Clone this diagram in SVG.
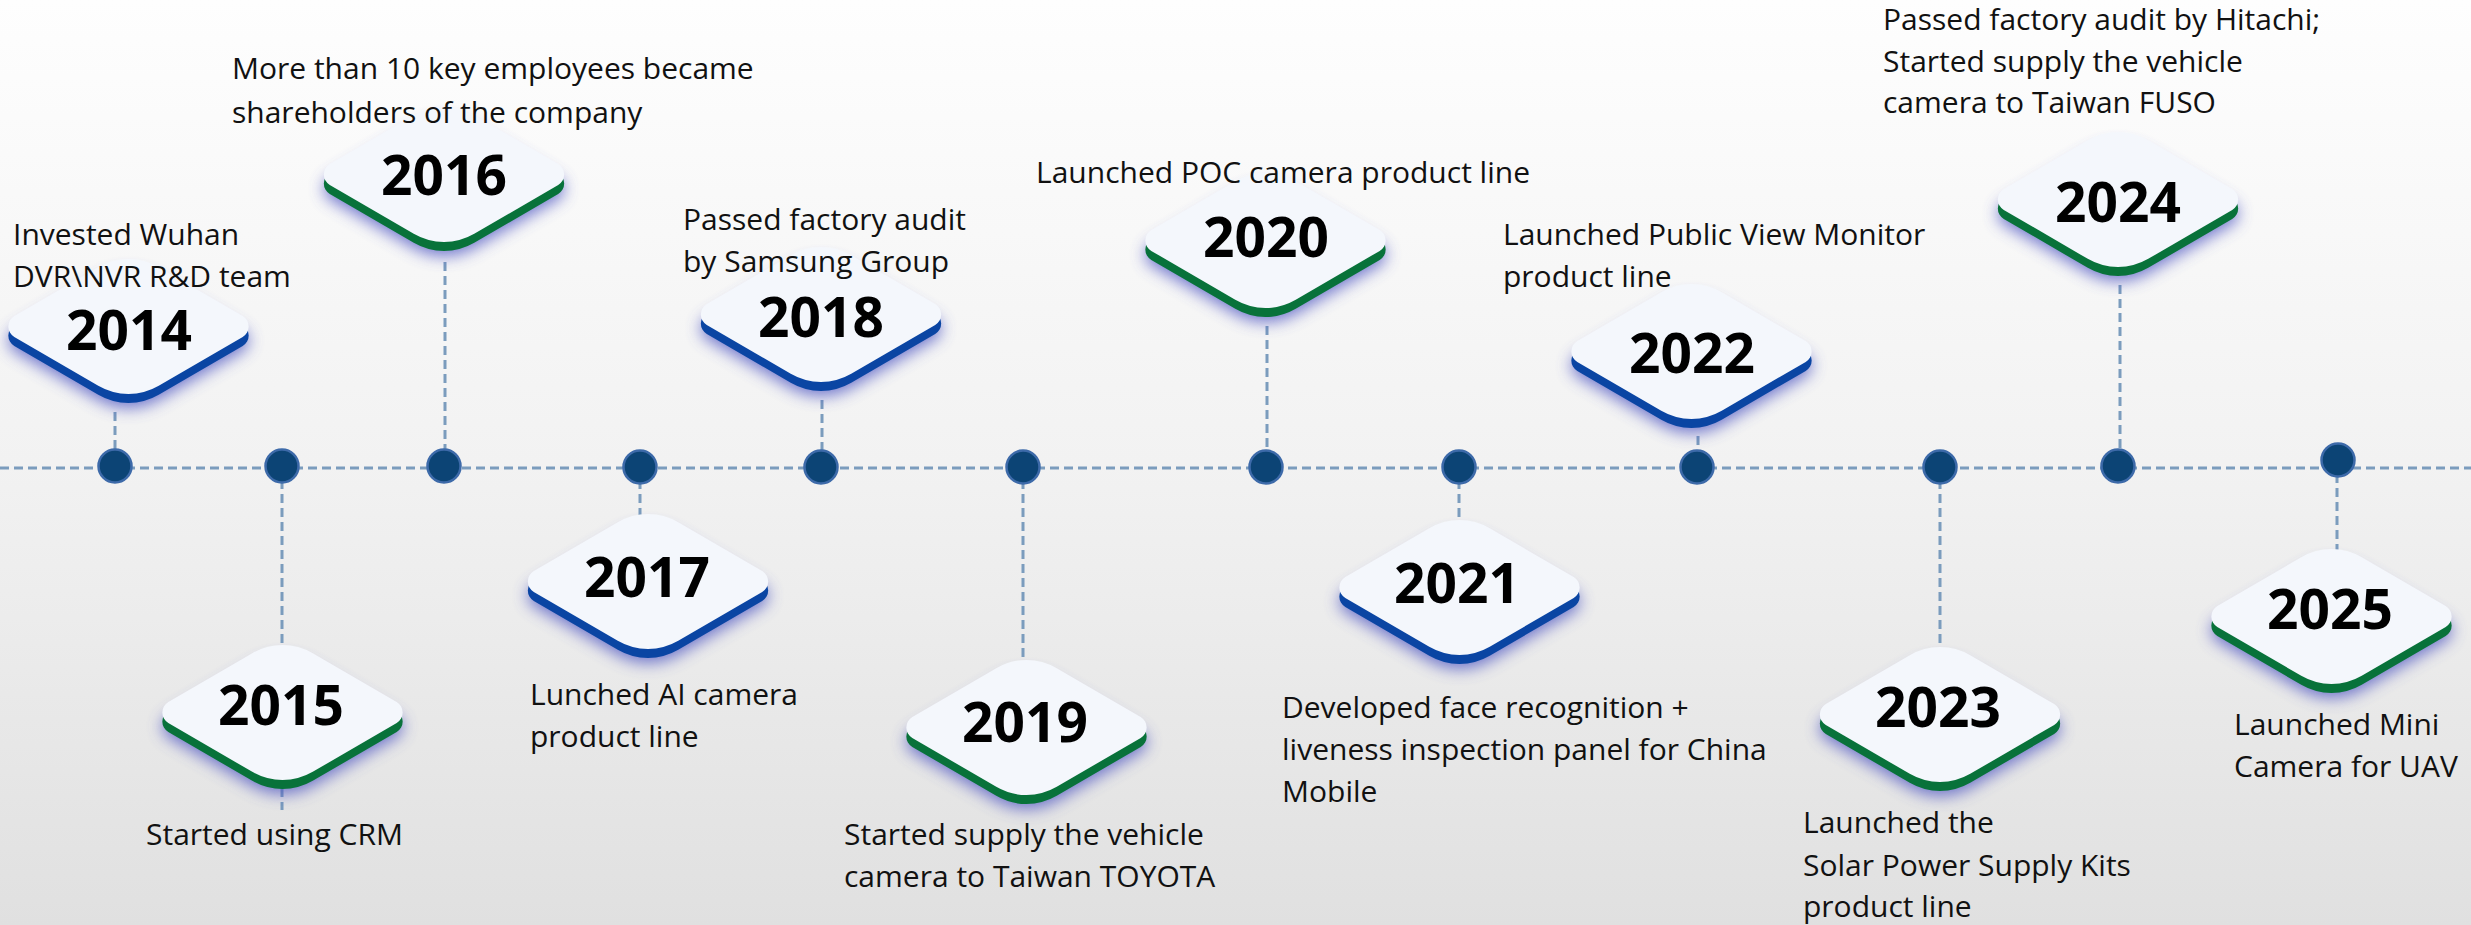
<svg xmlns="http://www.w3.org/2000/svg" xmlns:xlink="http://www.w3.org/1999/xlink" width="2471" height="925" viewBox="0 0 2471 925">
<defs>
<linearGradient id="bg" x1="0" y1="0" x2="0" y2="1">
<stop offset="0" stop-color="#fefefe"/>
<stop offset="0.5" stop-color="#f2f2f2"/>
<stop offset="1" stop-color="#e0e0e0"/>
</linearGradient>
<filter id="sh" x="-30%" y="-40%" width="160%" height="190%">
<feGaussianBlur stdDeviation="8"/>
</filter>
<path id="tile" d="M-30.24,-59.36 A60,60 0 0 1 30.24,-59.36 L114.2,-10.38 A12,12 0 0 1 114.2,10.38 L30.24,59.36 A60,60 0 0 1 -30.24,59.36 L-114.2,10.38 A12,12 0 0 1 -114.2,-10.38 Z"/>
<style>
.shadow{fill:#4f56c2;opacity:.8;filter:url(#sh)}
.face{fill:#f4f7fc}
.blue{fill:#0a45a3}
.green{fill:#08723a}
.year{font-family:"Open Sans","Liberation Sans",sans-serif;font-weight:700;font-size:55px;fill:#000;text-anchor:middle}
.desc{font-family:"Open Sans","Liberation Sans",sans-serif;font-size:30px;fill:#111}
.dash{stroke:#7b9cbd;stroke-width:3;stroke-dasharray:9 5;fill:none}
.dot{fill:#0c4475;stroke:#3d6aa9;stroke-width:2.5}
</style>
</defs>
<rect x="0" y="0" width="2471" height="925" fill="url(#bg)"/>

<g id="connectors">
<line class="dash" x1="0" y1="468" x2="2471" y2="468"/>
<line class="dash" x1="115" y1="412" x2="115" y2="466"/>
<line class="dash" x1="282" y1="466" x2="282" y2="810"/>
<line class="dash" x1="445" y1="262" x2="445" y2="466"/>
<line class="dash" x1="640" y1="466" x2="640" y2="515"/>
<line class="dash" x1="822" y1="400" x2="822" y2="466"/>
<line class="dash" x1="1023" y1="466" x2="1023" y2="662"/>
<line class="dash" x1="1267" y1="326" x2="1267" y2="466"/>
<line class="dash" x1="1459" y1="466" x2="1459" y2="522"/>
<line class="dash" x1="1698" y1="436" x2="1698" y2="466"/>
<line class="dash" x1="1940" y1="466" x2="1940" y2="646"/>
<line class="dash" x1="2120" y1="285" x2="2120" y2="466"/>
<line class="dash" x1="2337" y1="460" x2="2337" y2="550"/>
</g>

<g id="dots">
<circle class="dot" cx="115" cy="466" r="16.5"/>
<circle class="dot" cx="282" cy="466" r="16.5"/>
<circle class="dot" cx="444" cy="466" r="16.5"/>
<circle class="dot" cx="640" cy="467" r="16.5"/>
<circle class="dot" cx="821" cy="467" r="16.5"/>
<circle class="dot" cx="1023" cy="467" r="16.5"/>
<circle class="dot" cx="1266" cy="467" r="16.5"/>
<circle class="dot" cx="1459" cy="467" r="16.5"/>
<circle class="dot" cx="1697" cy="467" r="16.5"/>
<circle class="dot" cx="1940" cy="467" r="16.5"/>
<circle class="dot" cx="2118" cy="466" r="16.5"/>
<circle class="dot" cx="2338" cy="460" r="16.5"/>
</g>

<g id="n2014">
<use href="#tile" class="shadow" transform="translate(128.5,340.5)"/>
<use href="#tile" class="blue" transform="translate(128.5,335.5)"/>
<use href="#tile" class="face" transform="translate(128.5,326.5)"/>
<text class="year" x="129" y="350">2014</text>
<text class="desc" x="13" y="245">Invested Wuhan</text>
<text class="desc" x="13" y="287">DVR\NVR R&amp;D team</text>
</g>

<g id="n2015">
<use href="#tile" class="shadow" transform="translate(282.5,726.5)"/>
<use href="#tile" class="green" transform="translate(282.5,721.5)"/>
<use href="#tile" class="face" transform="translate(282.5,712.5)"/>
<text class="year" x="281" y="725">2015</text>
<text class="desc" x="146" y="845">Started using CRM</text>
</g>

<g id="n2016">
<use href="#tile" class="shadow" transform="translate(444,188.5)"/>
<use href="#tile" class="green" transform="translate(444,183.5)"/>
<use href="#tile" class="face" transform="translate(444,174.5)"/>
<text class="year" x="444" y="195">2016</text>
<text class="desc" x="232" y="79">More than 10 key employees became</text>
<text class="desc" x="232" y="123">shareholders of the company</text>
</g>

<g id="n2017">
<use href="#tile" class="shadow" transform="translate(648,595.5)"/>
<use href="#tile" class="blue" transform="translate(648,590.5)"/>
<use href="#tile" class="face" transform="translate(648,581.5)"/>
<text class="year" x="647" y="597">2017</text>
<text class="desc" x="530" y="705">Lunched AI camera</text>
<text class="desc" x="530" y="747">product line</text>
</g>

<g id="n2018">
<use href="#tile" class="shadow" transform="translate(821,328.5)"/>
<use href="#tile" class="blue" transform="translate(821,323.5)"/>
<use href="#tile" class="face" transform="translate(821,314.5)"/>
<text class="year" x="821" y="337">2018</text>
<text class="desc" x="683" y="230">Passed factory audit</text>
<text class="desc" x="683" y="272">by Samsung Group</text>
</g>

<g id="n2019">
<use href="#tile" class="shadow" transform="translate(1026.5,741.5)"/>
<use href="#tile" class="green" transform="translate(1026.5,736.5)"/>
<use href="#tile" class="face" transform="translate(1026.5,727.5)"/>
<text class="year" x="1025" y="742">2019</text>
<text class="desc" x="844" y="845">Started supply the vehicle</text>
<text class="desc" x="844" y="887">camera to Taiwan TOYOTA</text>
</g>

<g id="n2020">
<use href="#tile" class="shadow" transform="translate(1265.5,254.5)"/>
<use href="#tile" class="green" transform="translate(1265.5,249.5)"/>
<use href="#tile" class="face" transform="translate(1265.5,240.5)"/>
<text class="year" x="1266" y="257">2020</text>
<text class="desc" x="1036" y="183">Launched POC camera product line</text>
</g>

<g id="n2021">
<use href="#tile" class="shadow" transform="translate(1459.5,601.5)"/>
<use href="#tile" class="blue" transform="translate(1459.5,596.5)"/>
<use href="#tile" class="face" transform="translate(1459.5,587.5)"/>
<text class="year" x="1457" y="603">2021</text>
<text class="desc" x="1282" y="718">Developed face recognition +</text>
<text class="desc" x="1282" y="760">liveness inspection panel for China</text>
<text class="desc" x="1282" y="802">Mobile</text>
</g>

<g id="n2022">
<use href="#tile" class="shadow" transform="translate(1691.5,365.5)"/>
<use href="#tile" class="blue" transform="translate(1691.5,360.5)"/>
<use href="#tile" class="face" transform="translate(1691.5,351.5)"/>
<text class="year" x="1692" y="373">2022</text>
<text class="desc" x="1503" y="245">Launched Public View Monitor</text>
<text class="desc" x="1503" y="287">product line</text>
</g>

<g id="n2023">
<use href="#tile" class="shadow" transform="translate(1940,728.5)"/>
<use href="#tile" class="green" transform="translate(1940,723.5)"/>
<use href="#tile" class="face" transform="translate(1940,714.5)"/>
<text class="year" x="1938" y="727">2023</text>
<text class="desc" x="1803" y="833">Launched the</text>
<text class="desc" x="1803" y="876">Solar Power Supply Kits</text>
<text class="desc" x="1803" y="917">product line</text>
</g>

<g id="n2024">
<use href="#tile" class="shadow" transform="translate(2118,213.5)"/>
<use href="#tile" class="green" transform="translate(2118,208.5)"/>
<use href="#tile" class="face" transform="translate(2118,199.5)"/>
<text class="year" x="2118" y="222">2024</text>
<text class="desc" x="1883" y="30">Passed factory audit by Hitachi;</text>
<text class="desc" x="1883" y="72">Started supply the vehicle</text>
<text class="desc" x="1883" y="113">camera to Taiwan FUSO</text>
</g>

<g id="n2025">
<use href="#tile" class="shadow" transform="translate(2331.5,630.5)"/>
<use href="#tile" class="green" transform="translate(2331.5,625.5)"/>
<use href="#tile" class="face" transform="translate(2331.5,616.5)"/>
<text class="year" x="2330" y="629">2025</text>
<text class="desc" x="2234" y="735">Launched Mini</text>
<text class="desc" x="2234" y="777">Camera for UAV</text>
</g>
</svg>
